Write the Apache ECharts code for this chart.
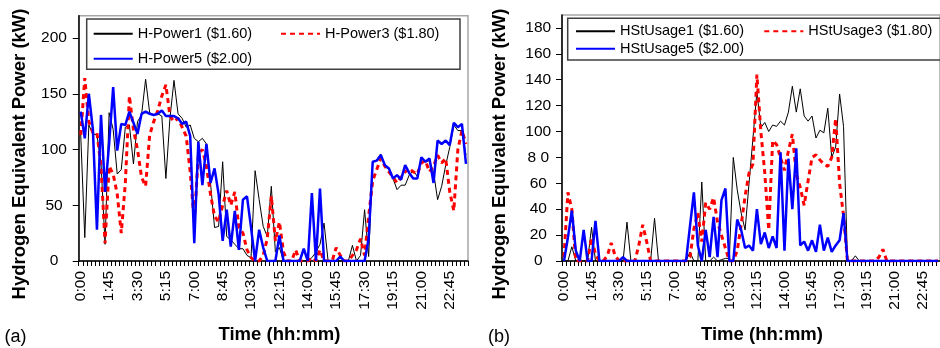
<!DOCTYPE html>
<html>
<head>
<meta charset="utf-8">
<script src="https://cdn.jsdelivr.net/npm/echarts@6/dist/echarts.min.js"></script>
<style>
html,body{margin:0;padding:0;background:#fff;}
#chart{width:940px;height:348px;}
</style>
</head>
<body>
<div id="chart"></div>
<script>
const times = ['0:00','0:15','0:30','0:45','1:00','1:15','1:30','1:45','2:00','2:15','2:30','2:45',
'3:00','3:15','3:30','3:45','4:00','4:15','4:30','4:45','5:00','5:15','5:30','5:45',
'6:00','6:15','6:30','6:45','7:00','7:15','7:30','7:45','8:00','8:15','8:30','8:45',
'9:00','9:15','9:30','9:45','10:00','10:15','10:30','10:45','11:00','11:15','11:30','11:45',
'12:00','12:15','12:30','12:45','13:00','13:15','13:30','13:45','14:00','14:15','14:30','14:45',
'15:00','15:15','15:30','15:45','16:00','16:15','16:30','16:45','17:00','17:15','17:30','17:45',
'18:00','18:15','18:30','18:45','19:00','19:15','19:30','19:45','20:00','20:15','20:30','20:45',
'21:00','21:15','21:30','21:45','22:00','22:15','22:30','22:45','23:00','23:15','23:30','23:45'];

// Panel (a)
const hPower1 = [113,21,122,114,113,88,15,133,118,78,82,120,122,87,125,131,163,133,131,132,130,74,128,162,
132,128,120,122,110,107,110,105,70,30,31,89,22,19,15,11,11,5,3,81,55,31,22,67,8,12,0,0,0,0,
0,0,0,3,8,15,34,0,0,0,0,0,0,14,0,5,46,4,88,91,96,84,83,74,64,68,68,77,81,76,92,89,90,80,55,67,86,102,122,117,117,95];
const hPower3 = [113,164,125,115,115,85,16,85,78,60,25,70,148,118,100,75,67,113,125,135,148,158,130,125,
128,120,112,80,35,95,100,85,60,40,35,50,63,50,62,30,25,10,3,0,0,5,20,58,18,35,8,0,0,10,
0,0,0,3,0,10,0,0,0,12,5,0,0,5,10,20,5,40,72,82,92,85,80,75,70,75,80,83,80,78,88,90,80,85,95,88,92,62,45,100,117,105];
const hPower5 = [134,110,150,118,28,131,62,105,156,99,123,122,134,124,114,132,134,132,131,132,135,130,130,130,
128,123,125,112,16,107,68,105,70,83,60,18,46,13,45,10,55,58,30,0,28,12,0,0,0,23,0,0,0,0,
0,11,0,61,0,65,0,0,0,0,4,0,0,0,0,0,0,20,89,90,95,86,83,74,77,73,86,79,74,74,93,89,92,70,108,105,108,104,124,120,123,87];

// Panel (b)
const hStUsage1 = [0,0,11,0,0,0,0,26,0,0,0,0,0,0,0,0,30,0,0,0,0,0,0,33,
0,0,0,0,0,0,0,0,7,0,0,61,0,0,3,0,1,2,2,80,55,37,24,60,95,131,103,107,100,105,
104,108,105,115,135,115,133,112,108,112,95,101,99,118,80,88,129,104,0,0,4,0,0,0,0,0,0,0,0,0,0,0,0,0,0,0,0,0,0,0,0,0];
const hStUsage3 = [3,53,40,0,0,0,0,18,5,0,0,4,14,4,0,0,0,0,0,12,28,15,0,0,
0,0,0,0,0,0,0,0,3,25,37,15,45,40,49,30,20,10,0,0,8,28,50,68,75,144,100,68,24,93,
90,80,70,85,98,67,57,43,62,80,82,78,75,73,80,110,60,35,0,0,0,0,0,0,0,0,3,9,0,0,0,0,0,0,0,0,0,0,0,0,0,0];
const hStUsage5 = [0,18,39,8,0,24,0,0,31,0,0,0,0,0,0,3,0,0,0,0,0,0,0,0,
0,0,0,0,0,0,0,0,27,53,12,0,24,3,34,3,47,56,0,0,32,24,10,12,8,40,13,22,10,19,
10,84,8,79,40,87,12,15,8,16,7,28,8,18,7,12,16,37,0,0,0,0,0,0,0,0,0,0,0,0,0,0,0,0,0,0,0,0,0,0,0,0];

const namesA = ['H-Power1 ($1.60)','H-Power3 ($1.80)','H-Power5 ($2.00)'];
const namesB = ['HStUsage1 ($1.60)','HStUsage3 ($1.80)','HStUsage5 ($2.00)'];

const FONT = '"Liberation Sans", Arial, sans-serif';
const chart = echarts.init(document.getElementById('chart'), null, {renderer:'canvas'});

function xAxisCfg(gi){
  return {type:'category', gridIndex:gi, data:times, boundaryGap:true,
    axisLine:{show:true, lineStyle:{color:'#000', width:1.5}},
    axisTick:{show:true, interval:0, length:5, lineStyle:{color:'#000', width:1}},
    axisLabel:{interval:6, rotate:90, margin:10, fontSize:15.5, color:'#000', fontFamily:FONT},
    splitLine:{show:false}};
}
function yAxisCfg(gi, max, interval, margin, fmt){
  return {type:'value', gridIndex:gi, min:0, max:max, interval:interval,
    axisLine:{show:true, lineStyle:{color:'#000', width:1.5}},
    axisTick:{show:true, length:6, lineStyle:{color:'#000', width:1}},
    axisLabel:{showMaxLabel:false, align:'center', margin:margin, fontSize:15.5, color:'#000', fontFamily:FONT, formatter:fmt},
    splitLine:{show:false}};
}
const styles = {
  black:{color:'#000000', width:1},
  red:{color:'#ff0000', width:3, type:[5,4]},
  blue:{color:'#0000ff', width:2.5}
};
function lineSeries(name, data, gi, kind){
  return {type:'line', name:name, xAxisIndex:gi, yAxisIndex:gi, data:data, symbol:'none',
    lineStyle:styles[kind], itemStyle:{color:styles[kind].color}, z: kind==='blue'?4:(kind==='red'?3:2)};
}
function legendCfg(name, left, cy){
  return {data:[name], left:left, top:cy-7, padding:0, itemWidth:39, itemHeight:14, itemGap:0,
    itemStyle:{color:'rgba(0,0,0,0)', borderColor:'rgba(0,0,0,0)', borderWidth:0},
    textStyle:{fontSize:14.5, color:'#000', fontFamily:FONT, padding:[0,0,0,0]}, selectedMode:false};
}

const option = {
  animation:false,
  backgroundColor:'#fff',
  grid:[
    {left:78.7, top:15.7, width:389.3, height:245.3, show:true, borderColor:'#a6a6a6', borderWidth:1.5, backgroundColor:'transparent'},
    {left:562, top:15, width:385, height:246, show:true, borderColor:'#a6a6a6', borderWidth:1.5, backgroundColor:'transparent'}
  ],
  xAxis:[xAxisCfg(0), xAxisCfg(1)],
  yAxis:[
    yAxisCfg(0, 220, 50, 24.7, v=>String(v)),
    yAxisCfg(1, 190, 20, 23.7, v=>(v===80?'8 0':String(v)))
  ],
  legend:[
    legendCfg(namesA[0], 92.7, 33.3),
    legendCfg(namesA[1], 280, 33.3),
    legendCfg(namesA[2], 92.7, 58.3),
    legendCfg(namesB[0], 575, 30.7),
    legendCfg(namesB[1], 763.3, 30.7),
    legendCfg(namesB[2], 575, 48.3)
  ],
  series:[
    lineSeries(namesA[0], hPower1, 0, 'black'),
    lineSeries(namesA[1], hPower3, 0, 'red'),
    lineSeries(namesA[2], hPower5, 0, 'blue'),
    lineSeries(namesB[0], hStUsage1, 1, 'black'),
    lineSeries(namesB[1], hStUsage3, 1, 'red'),
    lineSeries(namesB[2], hStUsage5, 1, 'blue')
  ],
  graphic:[
    {type:'rect', z:1, shape:{x:86.7, y:19, width:373.3, height:50.3}, style:{fill:'none', stroke:'#404040', lineWidth:1.5}},
    {type:'rect', z:1, shape:{x:567.7, y:18.3, width:390, height:41.7}, style:{fill:'none', stroke:'#404040', lineWidth:1.5}},
    {type:'text', x:20, y:154, rotation:Math.PI/2, style:{text:'Hydrogen Equivalent Power (kW)', font:'bold 18.5px '+FONT, fill:'#000', align:'center', verticalAlign:'middle'}},
    {type:'text', x:500, y:154, rotation:Math.PI/2, style:{text:'Hydrogen Equivalent Power (kW)', font:'bold 18.5px '+FONT, fill:'#000', align:'center', verticalAlign:'middle'}},
    {type:'text', x:279.5, y:335, style:{text:'Time (hh:mm)', font:'bold 18.5px '+FONT, fill:'#000', align:'center', verticalAlign:'middle'}},
    {type:'text', x:762, y:335, style:{text:'Time (hh:mm)', font:'bold 18.5px '+FONT, fill:'#000', align:'center', verticalAlign:'middle'}},
    {type:'text', x:4.5, y:337, style:{text:'(a)', font:'18px '+FONT, fill:'#000', align:'left', verticalAlign:'middle'}},
    {type:'text', x:488, y:337, style:{text:'(b)', font:'18px '+FONT, fill:'#000', align:'left', verticalAlign:'middle'}}
  ]
};
chart.setOption(option);
</script>
</body>
</html>
